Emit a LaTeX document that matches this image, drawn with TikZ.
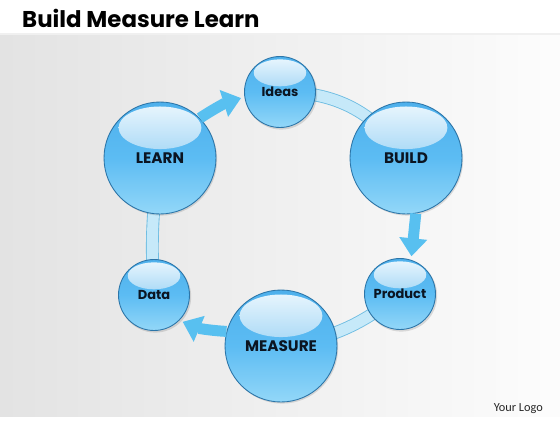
\documentclass[tikz,border=0pt]{standalone}
\usepackage{fontspec}
\setmainfont{Poppins}
\newfontfamily\logofont{Carlito}
\usepackage{xcolor}
\usetikzlibrary{arrows.meta,positioning}

\definecolor{bubbletop}{HTML}{4EB0EC}
\definecolor{bubblemid}{HTML}{5CBCF3}
\definecolor{bubblebot}{HTML}{93D7F8}
\definecolor{bubbleline}{HTML}{2C75A8}
\definecolor{bandfill}{HTML}{C6E9F9}
\definecolor{bandline}{HTML}{6FBDE2}
\definecolor{arrowfill}{HTML}{58C0F0}
\definecolor{labeltext}{HTML}{0B1522}

\tikzset{
  bubble/.style={circle, draw=bubbleline, line width=0.5pt, inner sep=0pt,
    minimum size=#1, top color=bubbletop, bottom color=bubblebot, middle color=bubblemid,
    text=labeltext,
    path picture={
      \shade[top color=white!88!bubblemid, bottom color=bubbletop!92!white]
        ([yshift=0.27*#1]path picture bounding box.center) ellipse [x radius=0.37*#1, y radius=0.19*#1];
    }},
  bigbubble/.style={bubble=2.24cm, font=\fontsize{8.7}{10}\selectfont\bfseries},
  smallbubble/.style={bubble=1.42cm, font=\fontsize{7.4}{9}\selectfont\bfseries},
  bubbleshadow/.style={fill=black, opacity=0.12},
  band/.style={draw=bandline, line width=0.5pt, double=bandfill, double distance=0.22cm},
  flow/.style={draw=arrowfill, line width=0.22cm, -{Triangle[width=0.54cm,length=0.36cm]}, shorten >=2pt}
}

\begin{document}
\begin{tikzpicture}[x=0.02cm, y=0.02cm]
                        \useasboundingbox (0,0) rectangle (560,420);

                        % Drawing background
                        \fill[white] (0,0) rectangle (560,420);
                        \shade[left color=black!11, middle color=black!3, right color=black!1] (0,4) rectangle (560,386);
                        \draw[black!6, line width=0.8pt] (0,386) -- (560,386);

                        % Marking title
                        \node[anchor=base west, font=\fontsize{13}{15}\selectfont\bfseries] (title) at (16,393) {Build Measure Learn};

                        % Marking centres of the ring
                        \coordinate (c-ideas) at (280,328);
                        \coordinate (c-build) at (406,262);
                        \coordinate (c-product) at (400,126);
                        \coordinate (c-measure) at (281,74);
                        \coordinate (c-data) at (154,125);
                        \coordinate (c-learn) at (160,262);

                        % Drawing bands behind the circles
                        \draw[band] (c-ideas) to[bend left=28] (c-build);
                        \draw[band] (c-product) to[bend left=15] (c-measure);
                        \draw[band] (c-learn) to[bend right=6] (c-data);

                        % Drawing shadows of the circles
                        \foreach \c/\r in {ideas/36,build/56,product/36,measure/56,data/36,learn/56}
                          \fill[bubbleshadow] ([shift={(1.2,-1.6)}]c-\c) circle (\r);

                        % Drawing circles
                        \node[smallbubble] (ideas) at (c-ideas) {Ideas};
                        \node[bigbubble] (build) at (c-build) {BUILD};
                        \node[smallbubble] (product) at (c-product) {Product};
                        \node[bigbubble] (measure) at (c-measure) {MEASURE};
                        \node[smallbubble] (data) at (c-data) {Data};
                        \node[bigbubble] (learn) at (c-learn) {LEARN};

                        % Drawing arrows
                        \draw[flow] (learn.45) to[bend left=8] (ideas.188);
                        \draw[flow] (build.-80) -- (product.72);
                        \draw[flow] (measure.165) to[bend left=10] (data.-45);

                        % Marking logo
                        \node[anchor=base east, font=\logofont\fontsize{7}{8}\selectfont, text=black!85] (logo) at (549,9) {Your Logo};
                    \end{tikzpicture}
\end{document}
